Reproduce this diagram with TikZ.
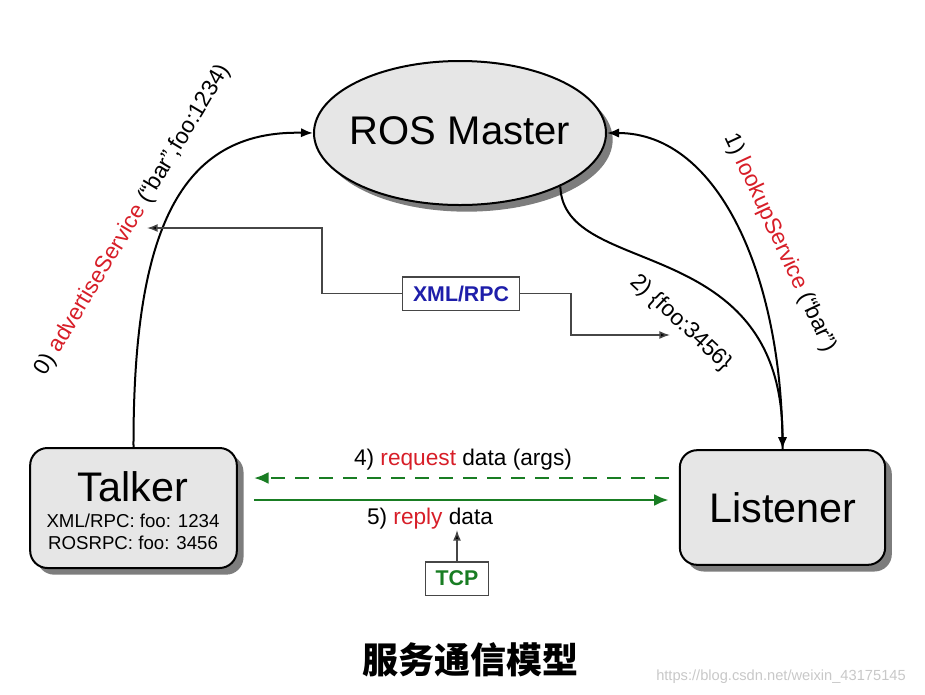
\documentclass[tikz,border=0pt]{standalone}
\usepackage{fontspec}
\setmainfont{Liberation Sans}
\newfontfamily\cjk{Noto Sans CJK SC}
\usetikzlibrary{arrows.meta,shadows,shapes.geometric}
\definecolor{nodefill}{RGB}{230,230,230}
\definecolor{shadowgray}{RGB}{125,125,125}
\definecolor{labred}{RGB}{215,30,40}
\definecolor{xmlblue}{RGB}{30,30,170}
\definecolor{tcpgreen}{RGB}{25,125,35}
\definecolor{linegray}{RGB}{70,70,70}
\definecolor{wmgray}{RGB}{200,200,200}
\begin{document}
\begin{tikzpicture}[x=0.75pt,y=-0.75pt,
  mainnode/.style={draw=black, line width=1.5pt, fill=nodefill,
    drop shadow={shadow xshift=5pt, shadow yshift=-5pt, fill=shadowgray, opacity=1}},
  boxnode/.style={mainnode, rounded corners=13pt, inner sep=0pt},
  bigtext/.style={font=\fontsize{31}{34}\selectfont, inner sep=0pt},
  smalltext/.style={font=\fontsize{14}{16}\selectfont, inner sep=0pt},
  lab/.style={font=\fontsize{17}{20}\selectfont, inner sep=0pt},
  conn/.style={line width=1.5pt, -{Latex[length=9pt,width=7pt]}},
  thinconn/.style={draw=linegray, line width=1.1pt, -{Latex[length=8pt,width=6pt,fill=black]}},
  greenconn/.style={draw=tcpgreen, line width=2.2pt, -{Latex[length=11pt,width=9pt]}},
  tagbox/.style={draw=linegray, line width=1pt, fill=white, inner sep=0pt, font=\bfseries\fontsize{16}{19}\selectfont}
]
\useasboundingbox (0,0) rectangle (925,694);

% nodes
\node[mainnode, ellipse, minimum width=219pt, minimum height=108pt, inner sep=0pt] (master) at (460,133) {};
\node[font=\fontsize{30}{33}\selectfont, inner sep=0pt] (mastertext) at (460,131) {ROS Master};

\node[boxnode, minimum width=155pt, minimum height=90pt] (talker) at (133.5,508) {};
\node[bigtext] (talkertext) at (133,487) {Talker};
\node[smalltext] (talkerxml) at (133,521) {XML/RPC: foo: 1234};
\node[smalltext] (talkerros) at (133,543) {ROSRPC: foo: 3456};

\node[boxnode, minimum width=154pt, minimum height=86pt] (listener) at (782.5,507.5) {};
\node[bigtext] (listenertext) at (783,508) {Listener};

\node[tagbox, text=xmlblue, minimum width=88pt, minimum height=25pt] (xml) at (461,293.5) {XML/RPC};
\node[tagbox, text=tcpgreen, minimum width=47pt, minimum height=25pt] (tcp) at (457,578.5) {TCP};

% main curves
\draw[conn] (talker.north) .. controls (133,230) and (180,130) .. (master.west);
\draw[conn] (listener.north) .. controls (783,280) and (720,133) .. (master.east);
\draw[conn] (master.-28) .. controls (563,280) and (783,230) .. (listener.north);

% XML/RPC connector
\coordinate (advtip) at (147,228);
\coordinate (footip) at (670,335);
\draw[thinconn] (xml.west) -| (322,228) -- (advtip);
\draw[thinconn] (xml.east) -| (571,335) -- (footip);

% green data arrows
\coordinate (reqy) at (0,478);
\coordinate (repy) at (0,500);
\draw[greenconn, dash pattern=on 10.5pt off 7.5pt, shorten <=7.5pt, shorten >=12pt] (listener.west |- reqy) -- (talker.east |- reqy);
\draw[greenconn, shorten <=12pt, shorten >=7.5pt] (talker.east |- repy) -- (listener.west |- repy);

\coordinate (tcptip) at (457,530);
\draw[thinconn] (tcp.north) -- (tcptip);

% labels
\node[lab, rotate=59] (advlab) at (133,220) {0) \textcolor{labred}{advertiseService} (“bar”,foo:1234)};
\node[lab, rotate=-65] (lookuplab) at (780,243) {1) \textcolor{labred}{lookupService} (“bar”)};
\node[lab, rotate=-43] (foolab) at (681,323) {2) \{foo:3456\}};
\node[lab] (reqlab) at (463,460) {4) \textcolor{labred}{request} data (args)};
\node[lab] (replab) at (430,519) {5) \textcolor{labred}{reply} data};

% caption and watermark
\node[inner sep=0pt] (caption) at (470,660) {\cjk\bfseries\fontsize{27}{30}\selectfont 服务通信模型};
\node[text=wmgray, font=\fontsize{11}{13}\selectfont, inner sep=0pt] (wm) at (781,677) {https://blog.csdn.net/weixin\_43175145};
\end{tikzpicture}
\end{document}
